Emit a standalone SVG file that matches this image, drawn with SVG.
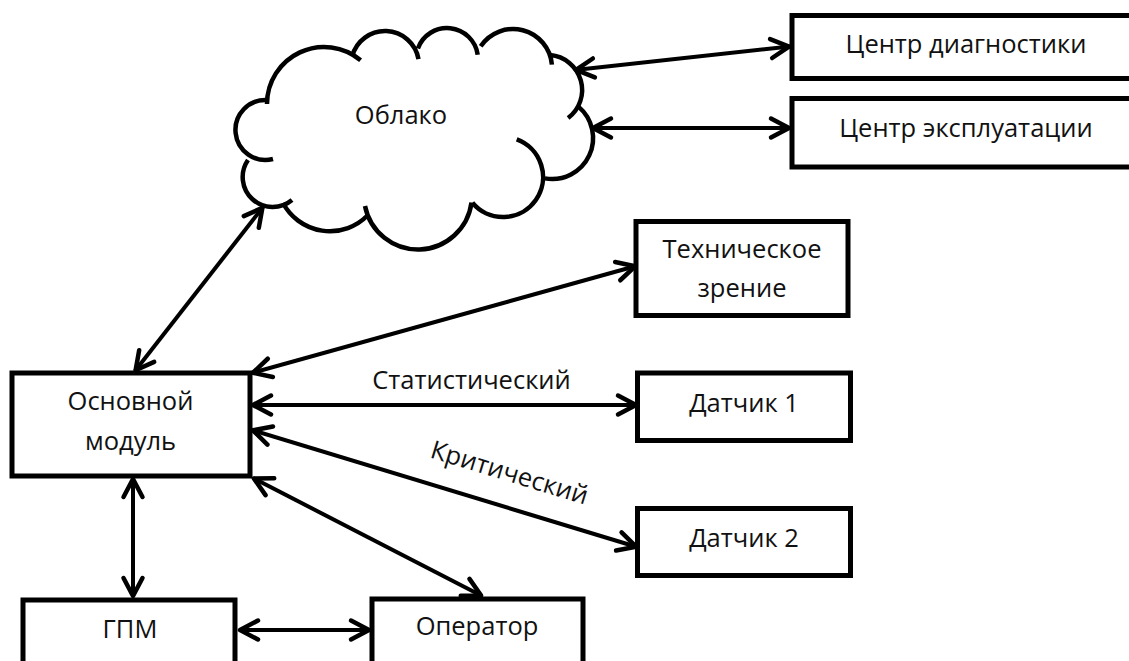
<svg xmlns="http://www.w3.org/2000/svg" width="1129" height="661" viewBox="0 0 1129 661">
<style>
.box{fill:#fff;stroke:#000;stroke-width:5}
.cl{fill:none;stroke:#000;stroke-width:4.5;stroke-linecap:butt}
.t{font-family:"Open Sans","Noto Sans","DejaVu Sans",sans-serif;font-size:25.5px;fill:#111;text-anchor:middle}
.c{fill:none;stroke:#000;stroke-width:4;marker-start:url(#ah);marker-end:url(#ah)}
</style>
<defs>
<marker id="ah" markerUnits="userSpaceOnUse" markerWidth="40" markerHeight="40" refX="0" refY="0" orient="auto-start-reverse" overflow="visible">
<path d="M -19 -9.5 L -1 0 L -19 9.5" fill="none" stroke="#000" stroke-width="4.5" stroke-linecap="round" stroke-linejoin="round"/>
</marker>
</defs>
<rect width="1129" height="661" fill="#fff"/>
<g id="oblako">
<path class="cl" d="M 267 100 A 30 30 0 1 0 273 159"/>
<path class="cl" d="M 248 160 A 30 30 0 0 0 292 200"/>
<path class="cl" d="M 283 203 A 53 53 0 0 0 367.5 215.5"/>
<path class="cl" d="M 365 206 A 54 54 0 0 0 471.5 202.5"/>
<path class="cl" d="M 516.7 139.4 A 40 40 0 1 1 472.4 202.7"/>
<path class="cl" d="M 578.4 106.6 A 41 41 0 0 1 544.9 178.4"/>
<path class="cl" d="M 550.1 55.1 A 35 35 0 0 1 568.1 118"/>
<path class="cl" d="M 480.7 46.2 A 39 39 0 0 1 551.9 64.6"/>
<path class="cl" d="M 417.9 48.4 A 31 31 0 0 1 477.7 54.7"/>
<path class="cl" d="M 352.2 56.2 A 34 34 0 0 1 418.5 59.1"/>
<path class="cl" d="M 267 104 A 57 57 0 0 1 360.6 60.3"/>
<text class="t" x="401" y="124">Облако</text>
</g>
<g id="connectors">
<line class="c" x1="575" y1="70" x2="790" y2="46.5"/>
<line class="c" x1="592" y1="128" x2="790" y2="128"/>
<line class="c" x1="263" y1="207" x2="135" y2="371"/>
<line class="c" x1="636" y1="266" x2="252" y2="373"/>
<line class="c" x1="252" y1="405" x2="637" y2="405"/>
<line class="c" x1="252" y1="430" x2="637" y2="547"/>
<line class="c" x1="253" y1="478" x2="482" y2="596"/>
<line class="c" x1="133" y1="478" x2="133" y2="597"/>
<line class="c" x1="239" y1="630" x2="370" y2="630"/>
<text class="t" x="471.5" y="389">Статистический</text>
<text class="t" transform="translate(507,481) rotate(16.9)" x="0" y="0">Критический</text>
</g>
<g id="centr-diagnostiki">
<rect class="box" x="792" y="15.5" width="400" height="63"/>
<text class="t" x="966" y="53">Центр диагностики</text>
</g>
<g id="centr-ekspluatacii">
<rect class="box" x="792" y="98.5" width="400" height="68.5"/>
<text class="t" x="966" y="137">Центр эксплуатации</text>
</g>
<g id="tekhnicheskoe-zrenie">
<rect class="box" x="636" y="221.5" width="212" height="94"/>
<text class="t" x="742" y="258">Техническое</text>
<text class="t" x="742" y="297">зрение</text>
</g>
<g id="osnovnoy-modul">
<rect class="box" x="12" y="373" width="238" height="103"/>
<text class="t" x="130.5" y="410">Основной</text>
<text class="t" x="130.5" y="450">модуль</text>
</g>
<g id="datchik-1">
<rect class="box" x="637.5" y="373" width="213" height="67.5"/>
<text class="t" x="744" y="412">Датчик 1</text>
</g>
<g id="datchik-2">
<rect class="box" x="637.5" y="508.5" width="213" height="67"/>
<text class="t" x="744" y="547">Датчик 2</text>
</g>
<g id="gpm">
<rect class="box" x="23" y="600" width="212" height="90"/>
<text class="t" x="130" y="638">ГПМ</text>
</g>
<g id="operator">
<rect class="box" x="372" y="599" width="211" height="90"/>
<text class="t" x="477" y="635">Оператор</text>
</g>
</svg>
